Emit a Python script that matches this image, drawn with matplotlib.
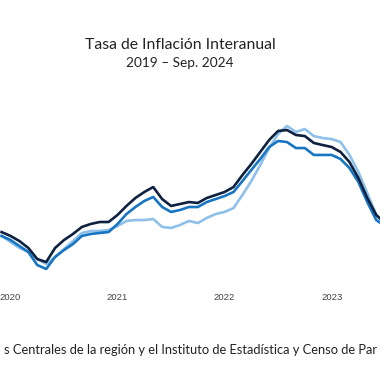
import matplotlib
matplotlib.use("Agg")
import matplotlib.pyplot as plt

# ── Datos (tasa interanual, %, dic-2019 a jul-2023) ──────────────────────────
meses = list(range(-1, 43))  # meses desde enero 2020

serie_oscura = [2.53, 2.27, 1.93, 1.47, 0.73, 0.53, 1.47, 2.00, 2.40, 2.87,
                3.07, 3.20, 3.20, 3.67, 4.27, 4.80, 5.20, 5.53, 4.73, 4.27,
                4.40, 4.53, 4.47, 4.80, 5.00, 5.20, 5.53, 6.33, 7.07, 7.87,
                8.67, 9.27, 9.33, 9.00, 8.93, 8.47, 8.33, 8.20, 7.87, 7.20,
                6.13, 4.80, 3.67, 3.13]

serie_media = [2.27, 2.00, 1.60, 1.20, 0.33, 0.07, 0.87, 1.33, 1.73, 2.27,
               2.40, 2.47, 2.53, 3.07, 3.73, 4.20, 4.60, 4.87, 4.20, 3.87,
               4.00, 4.20, 4.20, 4.53, 4.73, 4.93, 5.20, 5.93, 6.67, 7.40,
               8.20, 8.60, 8.53, 8.13, 8.13, 7.67, 7.67, 7.67, 7.40, 6.80,
               5.87, 4.53, 3.33, 2.93]

serie_clara = [2.27, 1.87, 1.47, 1.20, 0.73, 0.40, 0.87, 1.40, 1.93, 2.47,
               2.60, 2.60, 2.67, 2.93, 3.27, 3.33, 3.33, 3.40, 2.87, 2.80,
               3.00, 3.27, 3.13, 3.47, 3.73, 3.87, 4.13, 5.00, 5.93, 7.00,
               8.13, 9.07, 9.60, 9.20, 9.40, 8.93, 8.80, 8.73, 8.53, 7.67,
               6.53, 5.13, 3.67, 3.00]

ticks_x = [0, 12, 24, 36]
etiquetas_x = ["2020", "2021", "2022", "2023"]

titulo = "Tasa de Inflación Interanual"
subtitulo = "2019 – Sep. 2024"
fuente = "s Centrales de la región y el Instituto de Estadística y Censo de Par"

# ── Figura ───────────────────────────────────────────────────────────────────
fig = plt.figure(figsize=(3.8, 3.8), dpi=100)
ax = fig.add_axes([0, 95 / 380, 1, 175 / 380])

ax.plot(meses, serie_clara, color="#8fc0ea", lw=1.9, solid_joinstyle="round")
ax.plot(meses, serie_media, color="#1875c2", lw=1.9, solid_joinstyle="round")
ax.plot(meses, serie_oscura, color="#0e2240", lw=1.9, solid_joinstyle="round")

ax.set_xlim(-10.5 / 8.92, 369.5 / 8.92)
ax.set_ylim(-1, 10.667)
ax.set_xticks(ticks_x)
ax.set_xticklabels(etiquetas_x, fontfamily="Liberation Sans", fontsize=6.8,
                   color="#444444")
ax.tick_params(axis="x", length=0, pad=6)
ax.set_yticks([])
for s in ax.spines.values():
    s.set_visible(False)

fig.text(180 / 380, 1 - 45 / 380, titulo, ha="center", va="center",
         fontfamily="Lato", fontsize=11.3, color="#222222")
fig.text(180 / 380, 1 - 63 / 380, subtitulo, ha="center", va="center",
         fontfamily="Lato", fontsize=9.8, color="#222222")
fig.text(0.5, 1 - 350 / 380, fuente, ha="center", va="center",
         fontfamily="Lato", fontsize=9.3, color="#222222")

fig.savefig("out.png", dpi=100)
